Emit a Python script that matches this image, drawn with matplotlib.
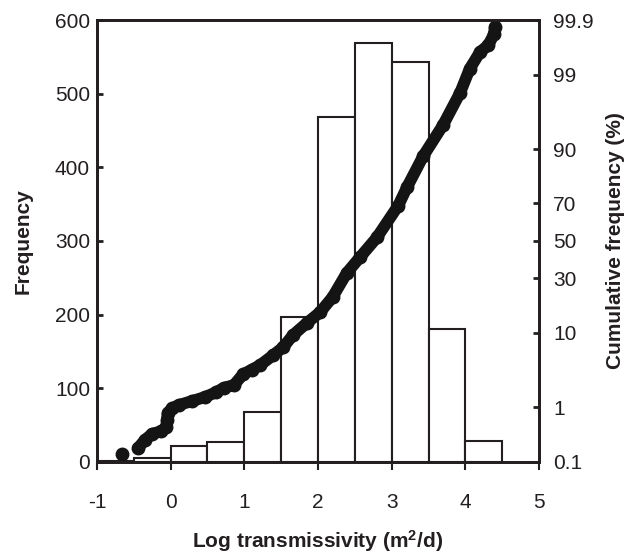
from statistics import NormalDist

import numpy as np
import matplotlib
matplotlib.use("Agg")
import matplotlib.pyplot as plt

plt.rcParams['font.family'] = ['Liberation Sans', 'DejaVu Sans']
plt.rcParams['axes.unicode_minus'] = False
plt.rcParams['mathtext.fontset'] = 'custom'
plt.rcParams['mathtext.rm'] = 'Liberation Sans'
plt.rcParams['mathtext.bf'] = 'Liberation Sans:bold'

# histogram of log transmissivity (bin width 0.5)
bin_left = [-1.0, -0.5, 0.0, 0.5, 1.0, 1.5, 2.0, 2.5, 3.0, 3.5, 4.0]
freq = [2, 6, 22, 27, 68, 197, 468, 569, 543, 180, 28]

# cumulative frequency curve
cum_x = [-0.66, -0.44, -0.35, -0.25, -0.13, -0.06, -0.05, -0.04, 0.02, 0.11,
         0.29, 0.47, 0.62, 0.72, 0.86, 0.98, 1.10, 1.21, 1.39, 1.53,
         1.66, 1.85, 2.03, 2.20, 2.39, 2.57, 2.80, 3.09, 3.21, 3.43,
         3.70, 3.93, 4.06, 4.20, 4.31, 4.39, 4.40]
cum_pct = [0.145, 0.19, 0.27, 0.35, 0.39, 0.46, 0.62, 0.81, 0.97, 1.09,
           1.26, 1.46, 1.73, 2.0, 2.2, 3.1, 3.6, 4.1, 5.5, 6.9,
           9.4, 12.6, 16.0, 21.7, 32.7, 41.0, 52.0, 69.0, 77.5, 88.3,
           94.8, 98.1, 99.2, 99.59, 99.69, 99.81, 99.86]

prob_ticks = [0.1, 1, 10, 30, 50, 70, 90, 99, 99.9]
prob_labels = ['0.1', '1', '10', '30', '50', '70', '90', '99', '99.9']

nd = NormalDist()
_ppf = np.vectorize(nd.inv_cdf, otypes=[float])
_cdf = np.vectorize(nd.cdf, otypes=[float])


def to_z(p):
    p = np.clip(np.asarray(p, dtype=float), 1e-7, 100 - 1e-7)
    return _ppf(p / 100.0)


def from_z(z):
    return _cdf(np.asarray(z, dtype=float)) * 100.0


dark = '#231f20'
fs = 15
fig = plt.figure(figsize=(6.24, 5.53), dpi=100)
ax = fig.add_axes([0.1554, 0.1646, 0.7084, 0.7992])

ax.bar(bin_left, freq, width=0.5, align='edge', color='white',
       edgecolor=dark, linewidth=1.5)
ax.set_xlim(-1, 5)
ax.set_ylim(0, 600)
ax.set_xticks(range(-1, 6))
ax.set_yticks(range(0, 601, 100))
ax.tick_params(axis='x', direction='out', length=6, width=1.5, pad=16,
               labelsize=fs, colors=dark)
ax.tick_params(axis='y', direction='in', length=4, width=2, pad=5,
               labelsize=fs, colors=dark)
for s in ax.spines.values():
    s.set_linewidth(2)
    s.set_color(dark)
ax.set_xlabel(r'Log transmissivity (m$\mathbf{^2}$/d)', fontsize=fs,
              fontweight='bold', labelpad=12, color=dark)
ax.set_ylabel('Frequency', fontsize=fs, fontweight='bold', labelpad=16,
              color=dark)

ax2 = ax.twinx()
ax2.set_yscale('function', functions=(to_z, from_z))
ax2.set_ylim(0.1, 99.9)
ax2.plot(cum_x[1:], cum_pct[1:], color='#141414', lw=8.5,
         solid_capstyle='round', solid_joinstyle='round')
ax2.plot(cum_x, cum_pct, 'o', color='#141414', ms=9)
ax2.set_yticks(prob_ticks)
ax2.set_yticklabels(prob_labels)
ax2.yaxis.set_minor_locator(matplotlib.ticker.NullLocator())
ax2.tick_params(axis='y', direction='in', length=4, width=2, pad=10,
                labelsize=fs, colors=dark)
for s in ax2.spines.values():
    s.set_linewidth(2)
    s.set_color(dark)
ax2.set_ylabel('Cumulative frequency (%)', fontsize=fs, fontweight='bold',
               labelpad=9, color=dark)

fig.savefig('out.png', dpi=100)
